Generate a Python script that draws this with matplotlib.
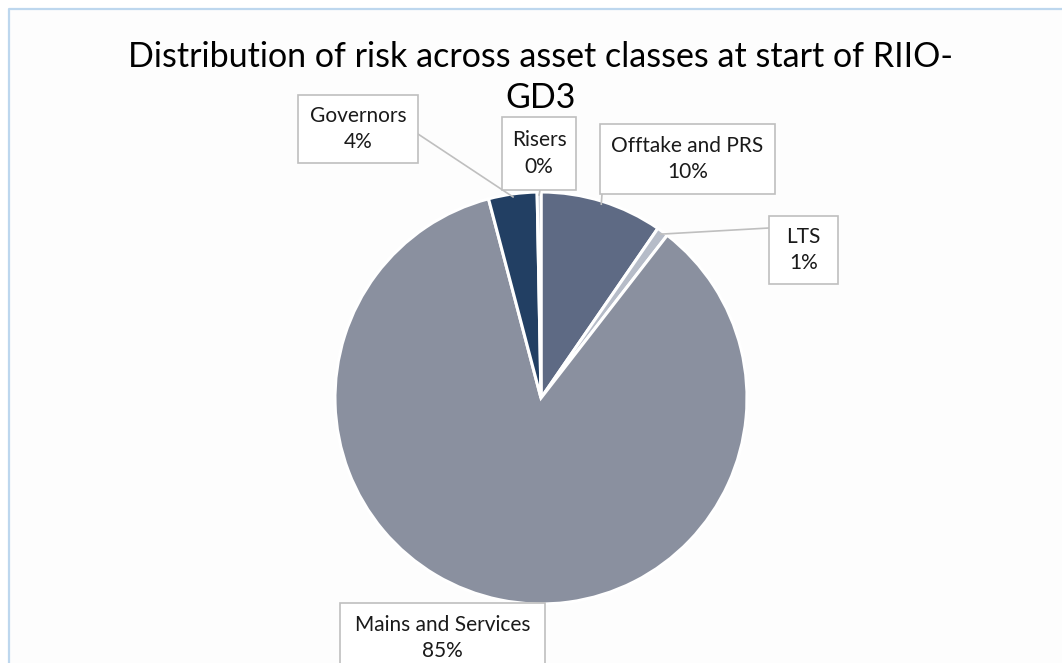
import matplotlib.pyplot as plt
from matplotlib.patches import Rectangle
import numpy as np

# Share of risk by asset class (%), clockwise from 12 o'clock
categories = ["Offtake and PRS", "LTS", "Mains and Services", "Governors", "Risers"]
shares = [9.6, 0.9, 85.4, 3.8, 0.3]
colors = ["#5e6a84", "#b6bcc8", "#8a909f", "#223f63", "#a5adbd"]

title_lines = ["Distribution of risk across asset classes at start of RIIO-", "GD3"]

W, H = 1062, 663
fig = plt.figure(figsize=(W / 100, H / 100), dpi=100)
ax = fig.add_axes([0, 0, 1, 1])
plt.rcParams['font.family'] = ['Lato', 'DejaVu Sans']

# chart area background and its light-blue frame
ax.add_patch(Rectangle((9, 0), W, H - 9, facecolor="#fdfdfd", edgecolor="none", zorder=0))
ax.plot([9, 9, W], [0, H - 9, H - 9], color="#bdd7ee", lw=1.6, zorder=1)

cx, cy, R = 541, H - 398, 206
wedges, _ = ax.pie(shares, colors=colors, startangle=90, counterclock=False,
                   center=(cx, cy), radius=R,
                   wedgeprops=dict(edgecolor="white", linewidth=2.2))

ax.set_xlim(0, W)
ax.set_ylim(0, H)
ax.set_aspect("equal")
ax.axis("off")

# title wraps onto a second line
for line, ty in zip(title_lines, [57, 98]):
    ax.text(cx, H - ty, line, ha="center", va="center", fontsize=24.5, color="black")

# label boxes: (x0, y0, x1, y1) in pixels from top-left
boxes = {
    "Offtake and PRS": (600, 124, 775, 194),
    "LTS": (769, 216, 838, 284),
    "Mains and Services": (340, 603, 545, 675),
    "Governors": (298, 95, 418, 163),
    "Risers": (502, 117, 576, 190),
}
# where the leader line leaves each box
anchors = {
    "Offtake and PRS": (602, 194),
    "LTS": (769, 228),
    "Mains and Services": None,
    "Governors": (418, 134),
    "Risers": (540, 190),
}

for w, name, val in zip(wedges, categories, shares):
    x0, y0, x1, y1 = boxes[name]
    ax.add_patch(Rectangle((x0, H - y1), x1 - x0, y1 - y0, facecolor="white",
                           edgecolor="#bfbfbf", lw=1.2, zorder=4))
    ty = 638 if name == "Mains and Services" else (y0 + y1) / 2
    ax.text((x0 + x1) / 2, H - ty, f"{name}\n{val:.0f}%", ha="center", va="center",
            fontsize=15, linespacing=1.4, color="#1a1a1a", zorder=5)
    if anchors[name] is not None:
        mid = np.deg2rad((w.theta1 + w.theta2) / 2)
        px, py = cx + (R - 3) * np.cos(mid), cy + (R - 3) * np.sin(mid)
        ax.plot([anchors[name][0], px], [H - anchors[name][1], py],
                color="#bfbfbf", lw=1.2, zorder=3)

fig.savefig("out.png", dpi=100)
